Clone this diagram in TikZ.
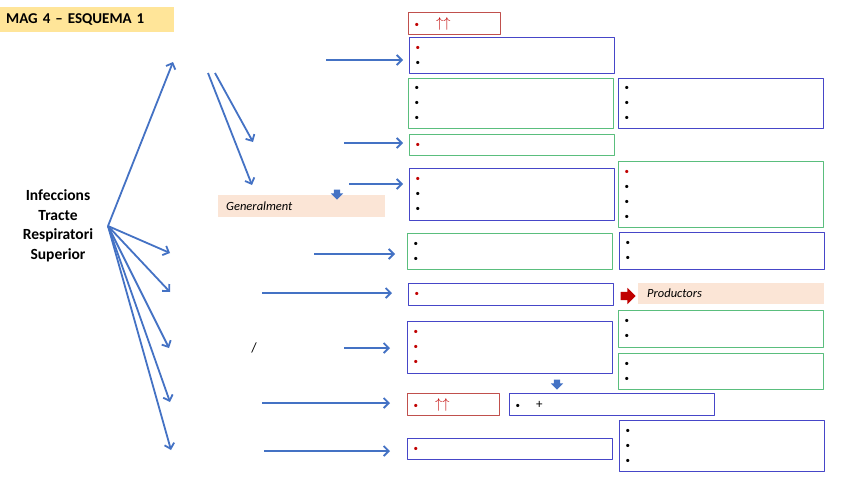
\documentclass[tikz,border=0pt]{standalone}
\usepackage{fontspec}
\setmainfont{Carlito}
\usetikzlibrary{arrows.meta,shapes.arrows}
\definecolor{arrblue}{RGB}{68,114,196}
\definecolor{boxred}{RGB}{192,80,77}
\definecolor{boxblue}{RGB}{70,70,200}
\definecolor{boxgreen}{RGB}{90,190,125}
\definecolor{darkred}{RGB}{192,0,0}
\definecolor{titlefill}{RGB}{255,229,153}
\definecolor{peach}{RGB}{251,229,214}
\newcommand{\rbul}{{\color{darkred}\textbullet}}
\newcommand{\bbul}{\textbullet}
\newcommand{\upup}{{\color{darkred}\fontsize{14}{15}\selectfont$\uparrow\uparrow$}}
\begin{document}
\begin{tikzpicture}[x=1pt, y=-1pt, line join=round, >={Straight Barb[length=5pt,width=10pt]}, font=\fontsize{9}{15}\selectfont,
	box/.style={draw, line width=1.2pt, anchor=north west, align=left, inner xsep=6pt, inner ysep=0pt, text width=193pt},
	rbox/.style={box, draw=boxred, text width=80pt},
	bbox/.style={box, draw=boxblue},
	gbox/.style={box, draw=boxgreen},
	note/.style={anchor=north west, fill=peach, align=left, inner ysep=0pt, font=\fontsize{12.5}{14}\selectfont\itshape},
	blk/.style={single arrow, draw=none, single arrow head indent=0pt},
	link/.style={->, arrblue, line width=1.8pt}]
	\useasboundingbox (0,0) rectangle (848,477);
	\node[anchor=north west, fill=titlefill, align=left, inner xsep=6pt, text width=162pt, minimum height=25pt, font=\fontsize{15}{16}\selectfont\bfseries] (title) at (0,7) {MAG 4 – ESQUEMA 1};
	\node[align=center, font=\fontsize{15.5}{19.5}\selectfont\bfseries] (itrs) at (58,226) {Infeccions\\Tracte\\Respiratori\\Superior};
	% left column
	\node[rbox, minimum height=22pt] (r1) at (408,12) {\rbul\hspace{17pt}\upup};
	\node[bbox, minimum height=36pt] (b1) at (409,37) {\rbul\\\bbul};
	\node[gbox, minimum height=50pt] (g1) at (408,78) {\bbul\\\bbul\\\bbul};
	\node[gbox, minimum height=21pt] (g2) at (409,134) {\rbul};
	\node[bbox, minimum height=52pt] (b3) at (409,168) {\rbul\\\bbul\\\bbul};
	\node[gbox, minimum height=36pt] (g4) at (407,233) {\bbul\\\bbul};
	\node[bbox, minimum height=22pt] (b5) at (408,283) {\rbul};
	\node[bbox, minimum height=52pt] (b6) at (407,321) {\rbul\\\rbul\\\rbul};
	\node[rbox, minimum height=22pt] (r2) at (407,393) {\rbul\hspace{17pt}\upup};
	\node[bbox, minimum height=21pt] (b8) at (407,438) {\rbul};
	% right column
	\node[bbox, minimum height=50pt] (b2) at (618,78) {\bbul\\\bbul\\\bbul};
	\node[gbox, minimum height=66pt] (g3) at (618,161) {\rbul\\\bbul\\\bbul\\\bbul};
	\node[bbox, minimum height=37pt] (b4) at (619,232) {\bbul\\\bbul};
	\node[gbox, minimum height=37pt] (g5) at (618,310) {\bbul\\\bbul};
	\node[gbox, minimum height=36pt] (g6) at (618,353) {\bbul\\\bbul};
	\node[bbox, minimum height=22pt] (b7) at (509,393) {\bbul\hspace{16pt}{\fontsize{13}{15}\selectfont+}};
	\node[bbox, minimum height=51pt] (b9) at (619,420) {\bbul\\\bbul\\\bbul};
	\node[note, inner xsep=8pt, text width=151pt, minimum height=22pt] (gen) at (218,195) {Generalment};
	\node[note, inner xsep=9pt, text width=168pt, minimum height=21pt] (prod) at (638,283) {Productors};
	\node[blk, fill=arrblue, shape border rotate=270, inner sep=3pt, single arrow head extend=3pt, minimum height=10pt] (dn1) at (337,193) {};
	\node[blk, fill=arrblue, shape border rotate=270, inner sep=3pt, single arrow head extend=3pt, minimum height=10pt] (dn2) at (557,383) {};
	\node[blk, fill=darkred, inner sep=4pt, single arrow head extend=4pt, minimum height=15pt] (ra) at (626,296) {};
	\node[font=\fontsize{14}{16}\selectfont] (sl) at (254,348) {/};
	% arrows from the label
	\coordinate (hub) at (108,226);
	\coordinate (up) at (173,62);
	\coordinate (d1) at (170,253);
	\coordinate (d2) at (170,292);
	\coordinate (d3) at (169,348);
	\coordinate (d4) at (170,402);
	\coordinate (d5) at (171,450);
	\coordinate (s1) at (208,73);
	\coordinate (s2) at (215,73);
	\coordinate (e1) at (252,185);
	\coordinate (e2) at (253,142);
	\draw[link] (hub) -- (up);
	\draw[link] (hub) -- (d1);
	\draw[link] (hub) -- (d2);
	\draw[link] (hub) -- (d3);
	\draw[link] (hub) -- (d4);
	\draw[link] (hub) -- (d5);
	\draw[link] (s1) -- (e1);
	\draw[link] (s2) -- (e2);
	% arrows to the boxes
	\coordinate (t1) at (326,60);
	\coordinate (t2) at (344,143);
	\coordinate (t3) at (349,184);
	\coordinate (t4) at (314,254);
	\coordinate (t5) at (262,293);
	\coordinate (t6) at (344,348);
	\coordinate (t7) at (262,403);
	\coordinate (t8) at (264,451);
	\draw[link, shorten >=6pt] (t1) -- (t1 -| b1.west);
	\draw[link, shorten >=6pt] (t2) -- (t2 -| g2.west);
	\draw[link, shorten >=6pt] (t3) -- (t3 -| b3.west);
	\draw[link, shorten >=12pt] (t4) -- (t4 -| g4.west);
	\draw[link, shorten >=16pt] (t5) -- (t5 -| b5.west);
	\draw[link, shorten >=17pt] (t6) -- (t6 -| b6.west);
	\draw[link, shorten >=17pt] (t7) -- (t7 -| r2.west);
	\draw[link, shorten >=17pt] (t8) -- (t8 -| b8.west);
\end{tikzpicture}
\end{document}
